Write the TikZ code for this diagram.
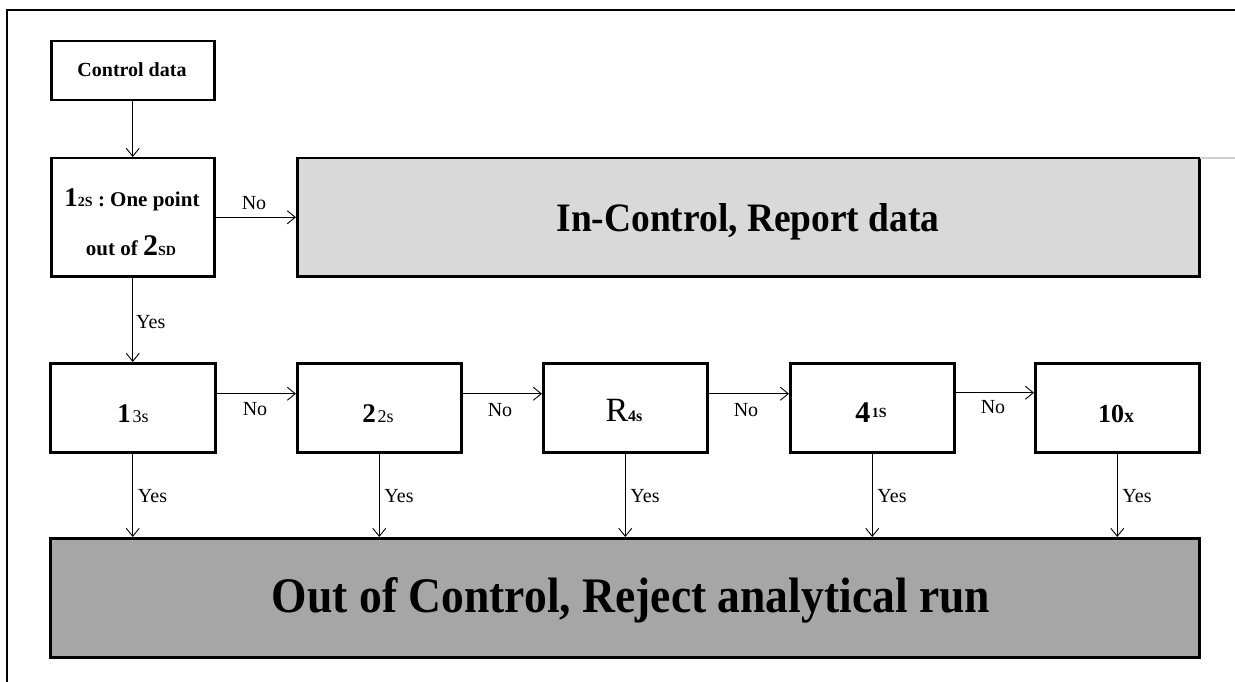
\documentclass[tikz,border=0pt]{standalone}
\usepackage{fontspec}
\usepackage{graphicx}
\setmainfont{Liberation Serif}
\usetikzlibrary{arrows.meta}
\definecolor{lightfill}{HTML}{D9D9D9}
\definecolor{darkfill}{HTML}{A6A6A6}
\definecolor{faintline}{HTML}{D0D0D0}
\newcommand\fsz[1]{\fontsize{#1}{#1}\selectfont}
\begin{document}
\begin{tikzpicture}[x=1pt,y=-1pt,
  box/.style={draw, line width=2.5pt, inner sep=0pt, anchor=north west},
  txt/.style={anchor=base, inner sep=0pt},
  conn/.style={line width=0.9pt, -{Straight Barb[length=8pt,width=13pt,line width=0.9pt]}},
  lbl/.style={font=\fsz{20}, inner sep=0pt}]
\useasboundingbox (0,0) rectangle (1235,682);
\draw[line width=2pt] (1235,10) -- (7,10) -- (7,682);

% boxes
\node[box, minimum width=163pt, minimum height=59pt] (cd) at (50,40) {};
\node[box, minimum width=163pt, minimum height=118pt] (r12) at (50,157) {};
\node[box, fill=lightfill, minimum width=902pt, minimum height=118pt] (inc) at (296,157) {};
\draw[faintline, line width=1.5pt] (1200,158) -- (1235,158);
\node[box, minimum width=165pt, minimum height=89pt] (b13) at (49,362) {};
\node[box, minimum width=164pt, minimum height=89pt] (b22) at (296,362) {};
\node[box, minimum width=164pt, minimum height=89pt] (br4) at (542,362) {};
\node[box, minimum width=164pt, minimum height=89pt] (b41) at (789,362) {};
\node[box, minimum width=164pt, minimum height=89pt] (b10) at (1034,362) {};
\node[box, fill=darkfill, minimum width=1149pt, minimum height=119pt] (out) at (49,537) {};

% texts
\node[txt, font=\bfseries\fsz{20}] (tcd) at (132,77) {Control data};
\node[txt, font=\bfseries\fsz{21}] (t12a) at (132,207) {{\fsz{27}1}{\fsz{14}2S} : One point};
\node[txt, font=\bfseries\fsz{21}] (t12b) at (131,255) {out of {\fsz{30}2}{\fsz{14}SD}};
\node[txt] (tinc) at (748,232) {\resizebox{383pt}{28pt}{\bfseries In-Control, Report data}};
\node[txt] (t13) at (133,422) {{\bfseries\fsz{27}1}\,{\fsz{18}3s}};
\node[txt] (t22) at (378,422) {{\bfseries\fsz{27}2}\,{\fsz{18}2s}};
\node[txt] (tr4) at (624,421) {{\fsz{34}R}{\bfseries\fsz{16}4s}};
\node[txt] (t41) at (871,422) {{\bfseries\fsz{30}4}\,\raisebox{5pt}{\bfseries\fsz{14}1S}};
\node[txt] (t10) at (1116,422) {{\bfseries\fsz{26}10}{\bfseries\fsz{20}x}};
\node[txt] (tout) at (631,612) {\resizebox{718pt}{35pt}{\bfseries Out of Control, Reject analytical run}};

% connectors
\draw[conn] (cd.south) -- (r12.north);
\draw[conn] (r12.east) -- (inc.west);
\node[lbl] (no0) at (254,203) {No};
\draw[conn] (r12.south) -- (b13.north);
\node[lbl, anchor=west] (yes0) at (136,322) {Yes};

\draw[conn] ([yshift=14pt]b13.east) -- ([yshift=14pt]b22.west);
\node[lbl] (no1) at (255,409) {No};
\draw[conn] ([yshift=14pt]b22.east) -- ([yshift=14pt]br4.west);
\node[lbl] (no2) at (500,410) {No};
\draw[conn] ([yshift=14pt]br4.east) -- ([yshift=14pt]b41.west);
\node[lbl] (no3) at (746,410) {No};
\draw[conn] ([yshift=15pt]b41.east) -- ([yshift=15pt]b10.west);
\node[lbl] (no4) at (993,407) {No};

\foreach \b/\n in {b13/1,b22/2,br4/3,b41/4,b10/5}{
  \draw[conn] (\b.south) -- (\b.south |- out.north);
  \node[lbl, anchor=west] (yes\n) at ([xshift=5pt,yshift=-43pt]\b.south) {Yes};
}
\end{tikzpicture}
\end{document}
